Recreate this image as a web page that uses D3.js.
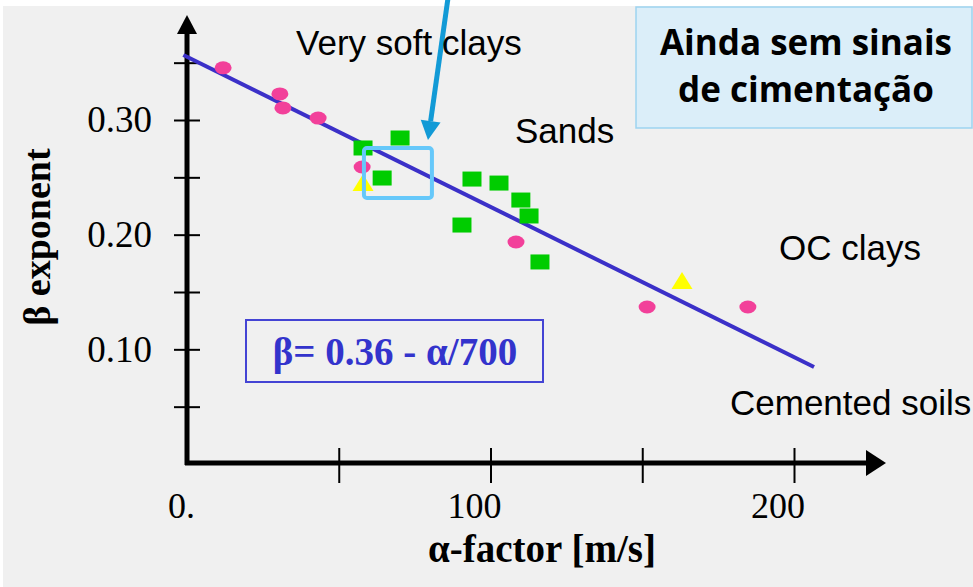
<!DOCTYPE html>
<html lang="en">
<head>
    <meta charset="UTF-8">
    <title>Beta exponent vs alpha factor</title>
    <script src="https://d3js.org/d3.v7.min.js"></script>
    <style>
        body { margin: 0; background: #fff; }
    </style>
</head>
<body>
<script>
    const width  = 973;
    const height = 587;

    // soil groups: [alpha (m/s), beta]
    const clays = [[11.9, 0.3455], [30.6, 0.3227], [31.6, 0.3105], [43.2, 0.3017],
                   [57.7, 0.259], [108.4, 0.1936], [151.6, 0.1369], [184.8, 0.1369]];
    const sands = [[58.0, 0.2756], [70.2, 0.2843], [64.3, 0.2494], [93.9, 0.2485],
                   [102.8, 0.245], [110.0, 0.2302], [112.7, 0.2163], [90.6, 0.2084],
                   [116.3, 0.1762]];
    const others = [[58.0, 0.245], [163.1, 0.1596]];
    const fitLine = [[-1.2, 0.3567], [206.6, 0.0846]];

    const xTicks = [0, 50, 100, 150, 200];
    const xLabels = ["0.", "", "100", "", "200"];
    const yTicks = [0.05, 0.10, 0.15, 0.20, 0.25, 0.30, 0.35];
    const yLabels = ["", "0.10", "", "0.20", "", "0.30", ""];

    const x = d3.scaleLinear().domain([0, 200]).range([187, 794]);
    const y = d3.scaleLinear().domain([0, 0.30]).range([464, 120]);

    const svg = d3.select("body")
            .append("svg")
            .attr("width", width)
            .attr("height", height);

    svg.append("rect")
            .attr("x", 3).attr("y", 6)
            .attr("width", width - 3).attr("height", height - 6)
            .attr("fill", "#f0f0f0");

    // y ticks
    const yAxis = svg.append("g")
            .attr("transform", "translate(200,0)")
            .call(d3.axisLeft(y).tickValues(yTicks).tickSize(26).tickPadding(22)
                    .tickFormat((d, i) => yLabels[i]));
    yAxis.select(".domain").remove();
    yAxis.selectAll(".tick line").attr("stroke", "#000").attr("stroke-width", 2);
    yAxis.selectAll(".tick text")
            .attr("font-family", "'Liberation Serif', 'Times New Roman', serif")
            .attr("font-size", 37)
            .attr("fill", "#000");

    // x ticks
    const xAxis = svg.append("g")
            .attr("transform", "translate(0,448)")
            .call(d3.axisBottom(x).tickValues(xTicks).tickSize(35).tickFormat(""));
    xAxis.select(".domain").remove();
    xAxis.selectAll(".tick line").attr("stroke", "#000").attr("stroke-width", 2);
    xAxis.selectAll(".tick").filter(d => d === 0).remove();

    svg.selectAll(".xlab")
            .data(xTicks)
            .enter().append("text")
            .attr("class", "xlab")
            .attr("x", (d, i) => i === 0 ? x(d) - 19 : x(d) - 16)
            .attr("y", 518)
            .attr("text-anchor", (d, i) => i === 0 ? "start" : "middle")
            .attr("font-family", "'Liberation Serif', 'Times New Roman', serif")
            .attr("font-size", 36)
            .text((d, i) => xLabels[i]);

    // axis lines with arrows
    svg.append("line")
            .attr("x1", x(0)).attr("x2", x(0))
            .attr("y1", y(0) + 1).attr("y2", 30)
            .attr("stroke", "#000").attr("stroke-width", 5);
    svg.append("path")
            .attr("d", d3.line()([[x(0), 15], [x(0) - 10, 34], [x(0) + 10, 34]]) + "Z")
            .attr("fill", "#000");
    svg.append("line")
            .attr("x1", x(0) - 2).attr("x2", 870)
            .attr("y1", 463).attr("y2", 463)
            .attr("stroke", "#000").attr("stroke-width", 5);
    svg.append("path")
            .attr("d", d3.line()([[886, 463], [866, 450], [866, 476]]) + "Z")
            .attr("fill", "#000");

    // axis titles
    svg.append("text")
            .attr("transform", "translate(50,237) rotate(-90)")
            .attr("text-anchor", "middle")
            .attr("font-family", "'Liberation Serif', 'Times New Roman', serif")
            .attr("font-weight", "bold")
            .attr("font-size", 38)
            .text("β exponent");
    svg.append("text")
            .attr("x", 542).attr("y", 562)
            .attr("text-anchor", "middle")
            .attr("font-family", "'Liberation Serif', 'Times New Roman', serif")
            .attr("font-weight", "bold")
            .attr("font-size", 39)
            .text("α-factor [m/s]");

    // fitted line
    svg.append("path")
            .datum(fitLine)
            .attr("d", d3.line().x(d => x(d[0])).y(d => y(d[1])))
            .attr("stroke", "#3b30c8")
            .attr("stroke-width", 4)
            .attr("fill", "none");

    // points
    svg.selectAll(".clay")
            .data(clays)
            .enter().append("ellipse")
            .attr("cx", d => x(d[0])).attr("cy", d => y(d[1]))
            .attr("rx", 8.5).attr("ry", 6.5)
            .attr("fill", "#f2409a");

    svg.selectAll(".other")
            .data(others)
            .enter().append("path")
            .attr("d", d => {
                const cx = x(d[0]), cy = y(d[1]);
                return d3.line()([[cx, cy - 9], [cx + 10.5, cy + 8], [cx - 10.5, cy + 8]]) + "Z";
            })
            .attr("fill", "#ffff00");

    svg.selectAll(".sand")
            .data(sands)
            .enter().append("rect")
            .attr("x", d => x(d[0]) - 9.5).attr("y", d => y(d[1]) - 7.5)
            .attr("width", 19).attr("height", 15)
            .attr("fill", "#00cc00");

    // highlight box and pointer
    svg.append("rect")
            .attr("x", x(58.3)).attr("y", y(0.2756))
            .attr("width", x(80.7) - x(58.3)).attr("height", y(0.232) - y(0.2756))
            .attr("rx", 3)
            .attr("fill", "none")
            .attr("stroke", "#66c8fa")
            .attr("stroke-width", 4);

    const tail = [x(86), -2], tip = [x(79.4), y(0.2826)];
    const dx = tip[0] - tail[0], dy = tip[1] - tail[1];
    const len = Math.hypot(dx, dy), ux = dx / len, uy = dy / len;
    const base = [tip[0] - ux * 19, tip[1] - uy * 19];
    svg.append("line")
            .attr("x1", tail[0]).attr("y1", tail[1])
            .attr("x2", base[0]).attr("y2", base[1])
            .attr("stroke", "#129ad6").attr("stroke-width", 5);
    svg.append("path")
            .attr("d", d3.line()([tip, [base[0] - uy * 10, base[1] + ux * 10],
                                  [base[0] + uy * 10, base[1] - ux * 10]]) + "Z")
            .attr("fill", "#129ad6");

    // region labels
    const sans = "'Liberation Sans', Arial, sans-serif";
    [["Very soft clays", 296, 55], ["Sands", 515, 143],
     ["OC clays", 779, 260], ["Cemented soils", 730, 415]].forEach(t => {
        svg.append("text")
                .attr("x", t[1]).attr("y", t[2])
                .attr("font-family", sans)
                .attr("font-size", 35)
                .text(t[0]);
    });

    // equation
    svg.append("rect")
            .attr("x", 246).attr("y", 320)
            .attr("width", 297).attr("height", 62)
            .attr("fill", "none")
            .attr("stroke", "#4444d4")
            .attr("stroke-width", 2);
    svg.append("text")
            .attr("x", 395).attr("y", 365)
            .attr("text-anchor", "middle")
            .attr("font-family", "'Liberation Serif', 'Times New Roman', serif")
            .attr("font-weight", "bold")
            .attr("font-size", 39)
            .attr("fill", "#3333cc")
            .text("β= 0.36 - α/700");

    // note box
    svg.append("rect")
            .attr("x", 636).attr("y", 7)
            .attr("width", 336).attr("height", 121)
            .attr("fill", "#dbeef9")
            .attr("stroke", "#9dd3f0")
            .attr("stroke-width", 1.5);
    [["Ainda sem sinais", 55], ["de cimentação", 102]].forEach(t => {
        svg.append("text")
                .attr("x", 806).attr("y", t[1])
                .attr("text-anchor", "middle")
                .attr("font-family", "'Open Sans', sans-serif")
                .attr("font-weight", "bold")
                .attr("font-size", 35)
                .attr("fill", "#000")
                .text(t[0]);
    });
</script>
</body>
</html>
